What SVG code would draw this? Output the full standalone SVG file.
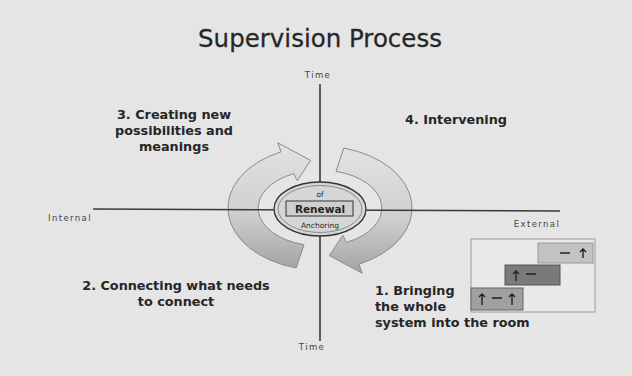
<svg xmlns="http://www.w3.org/2000/svg" width="632" height="376" viewBox="0 0 632 376">
<defs>
<linearGradient id="rib" x1="0" y1="0" x2="0" y2="1">
<stop offset="0" stop-color="#e2e2e2"/>
<stop offset="0.55" stop-color="#d0d0d0"/>
<stop offset="1" stop-color="#a4a4a4"/>
</linearGradient>
<style>
.t{font-family:"DejaVu Sans",Verdana,sans-serif;fill:#262626}
.lab{font-size:12.8px;font-weight:bold}
.ax{font-size:8.5px;fill:#444;letter-spacing:1.4px}
.axis{stroke:#3a3a3a;stroke-width:1.6;fill:none}
.ribbon{fill:url(#rib);stroke:#8a8a8a;stroke-width:1}
.ic{stroke:#222;stroke-width:1.4;fill:none}
</style>
</defs>
<rect width="632" height="376" fill="#e5e5e5"/>
<text class="t" x="320" y="47" font-size="24.5" text-anchor="middle" fill="#333" stroke="#333" stroke-width="0.3">Supervision Process</text>

<g id="cycle">
<path class="ribbon" d="M296.2,267.9 A92,62 0 0 1 281.1,151.8 L277.7,142.7 L310.6,160.4 L297.2,180.8 L293.8,173.6 A62,38 0 0 0 304,244.7 Z"/>
<path class="ribbon" d="M343.8,148.1 A92,62 0 0 1 358.9,264.2 L362.3,273.3 L329.4,255.6 L342.8,235.2 L346.2,242.4 A62,38 0 0 0 336,171.3 Z"/>
</g>

<g id="connectors">
<line class="axis" x1="320" y1="84" x2="320" y2="341"/>
<line class="axis" x1="93" y1="209" x2="560" y2="211"/>
</g>

<g id="axis-labels">
<text class="t ax" x="318" y="78" text-anchor="middle">Time</text>
<text class="t ax" x="312" y="350" text-anchor="middle">Time</text>
<text class="t ax" x="70" y="221" text-anchor="middle">Internal</text>
<text class="t ax" x="537" y="227" text-anchor="middle">External</text>
</g>

<g id="center">
<ellipse cx="320" cy="209" rx="46" ry="27" fill="#d6d6d6" stroke="#333" stroke-width="1.3"/>
<ellipse cx="320" cy="209" rx="42" ry="23.5" fill="none" stroke="#777" stroke-width="0.8"/>
<rect x="286" y="201" width="67" height="15" fill="#cfcfcf" stroke="#333" stroke-width="1"/>
<text class="t" x="320" y="197" font-size="7.5" text-anchor="middle">of</text>
<text class="t" x="320" y="213" font-size="10.5" font-weight="bold" text-anchor="middle">Renewal</text>
<text class="t" x="320" y="228" font-size="7.5" text-anchor="middle">Anchoring</text>
</g>

<g id="step3">
<text class="t lab" text-anchor="middle"><tspan x="174" y="119">3. Creating new</tspan><tspan x="174" y="135">possibilities and</tspan><tspan x="174" y="151">meanings</tspan></text>
</g>
<g id="step4">
<text class="t lab" x="405" y="124">4. Intervening</text>
</g>
<g id="step2">
<text class="t lab" text-anchor="middle"><tspan x="176" y="290">2. Connecting what needs</tspan><tspan x="176" y="306">to connect</tspan></text>
</g>
<g id="step1">
<text class="t lab"><tspan x="375" y="295">1. Bringing</tspan><tspan x="375" y="311">the whole</tspan><tspan x="375" y="327">system into the room</tspan></text>
</g>

<g id="inset">
<rect x="471" y="239" width="124" height="73" fill="#e9e9e9" stroke="#9a9a9a" stroke-width="1"/>
<rect x="538" y="243" width="55" height="20" fill="#c2c2c2" stroke="#999"/>
<rect x="505" y="265" width="55" height="20" fill="#7a7a7a" stroke="#555"/>
<rect x="471" y="288" width="52" height="22" fill="#a0a0a0" stroke="#666"/>
<path class="ic" d="M560,253 h10 M583,258 v-9 M580,252 l3,-3 l3,3"/>
<path class="ic" d="M516,281 v-10 M513,274 l3,-3 l3,3 M526,274 h10"/>
<path class="ic" d="M482,305 v-11 M479,297 l3,-3 l3,3 M492,298 h10 M512,305 v-11 M509,297 l3,-3 l3,3"/>
</g>
</svg>
